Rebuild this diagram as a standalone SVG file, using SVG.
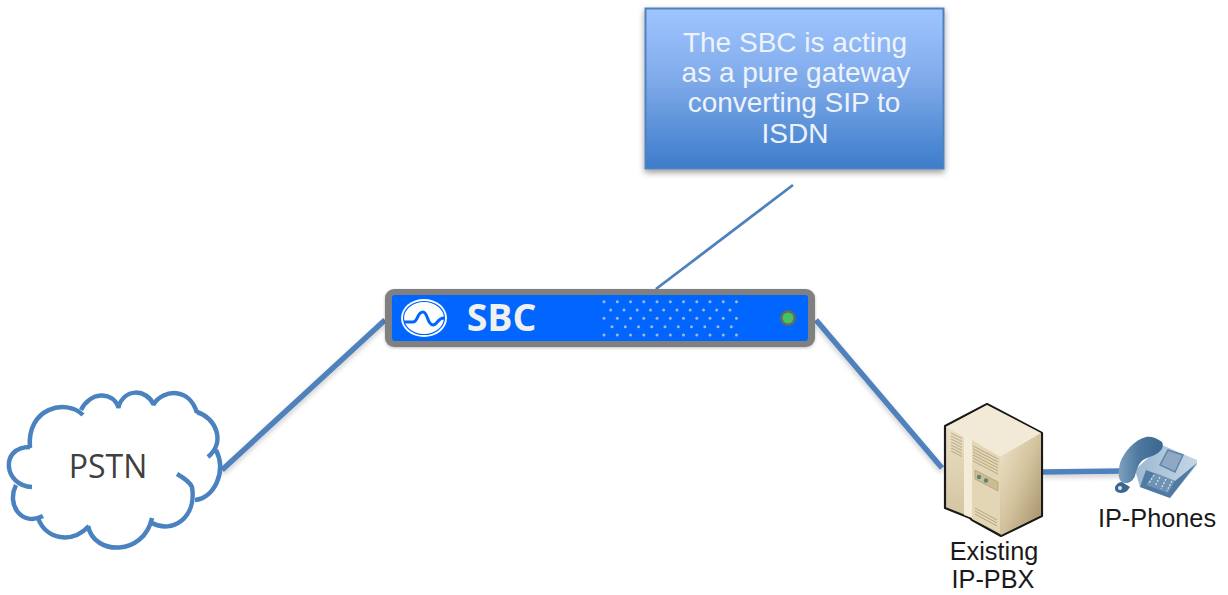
<svg xmlns="http://www.w3.org/2000/svg" width="1228" height="595" viewBox="0 0 1228 595">
<defs>
<style>
.conn{fill:none;stroke:#4f81bd;stroke-width:5.500;filter:url(#ls)}
.lbl{font-family:"Liberation Sans",Arial,sans-serif;font-size:25.300px;fill:#1a1a1a;text-anchor:middle}
.call{font-family:"Liberation Sans",Arial,sans-serif;font-size:28px;fill:#eef3fb;text-anchor:middle}
.cloud{fill:none;stroke:#4a82c0;stroke-width:4.500}
.vent{fill:none;stroke:#a8976f;stroke-width:1;opacity:.75}
.dot{fill:#a6b6cf}
</style>
<filter id="ls" filterUnits="userSpaceOnUse" x="0" y="0" width="1228" height="595"><feDropShadow dx="0" dy="3" stdDeviation="2.500" flood-color="#000" flood-opacity=".2"/></filter>
<filter id="bs" x="-5%" y="-5%" width="110%" height="115%"><feDropShadow dx="0" dy="3" stdDeviation="3" flood-color="#000" flood-opacity=".4"/></filter>
<filter id="ss" x="-5%" y="-20%" width="110%" height="140%"><feDropShadow dx="0" dy="1" stdDeviation="1.500" flood-color="#000" flood-opacity=".25"/></filter>
<linearGradient id="cg" x1="0" y1="0" x2="0" y2="1"><stop offset="0" stop-color="#9fc5ff"/><stop offset=".45" stop-color="#7faaea"/><stop offset="1" stop-color="#3c7cca"/></linearGradient>
<linearGradient id="sl" x1="0" y1="0" x2="0" y2="1"><stop offset="0" stop-color="#efe6cf"/><stop offset="1" stop-color="#cfbf98"/></linearGradient>
<linearGradient id="sr" x1="0" y1="0" x2="1" y2="1"><stop offset="0" stop-color="#efe5cd"/><stop offset=".5" stop-color="#d3c39c"/><stop offset="1" stop-color="#a08d66"/></linearGradient>
<linearGradient id="hs" x1="0" y1="0" x2="1" y2="0"><stop offset="0" stop-color="#7ea0c0"/><stop offset=".45" stop-color="#4d789f"/><stop offset="1" stop-color="#3a668f"/></linearGradient>
<linearGradient id="pb" x1="0" y1="0" x2="1" y2="0"><stop offset="0" stop-color="#9db8d0"/><stop offset="1" stop-color="#c5d6e5"/></linearGradient>
</defs>
<rect width="1228" height="595" fill="#fff"/>
<g id="connectors">
<path class="conn" d="M222 470L385 320"/>
<path class="conn" d="M816 320L942 468"/>
<path class="conn" d="M1043 472L1122 471"/>
<path d="M793 185L656 289" fill="none" stroke="#4f81bd" stroke-width="2.800"/>
</g>
<g id="pstn">
<path class="cloud" d="M32 487C4 486 -1 447 30 447"/>
<path class="cloud" d="M16 485C6 505 22 527 43 516"/>
<path class="cloud" d="M38 518C46 540 72 544 89 526"/>
<path class="cloud" d="M88 526C94 556 144 556 152 518"/>
<path class="cloud" d="M152 523C172 534 197 518 192 487C190 482 184 478 177 474"/>
<path class="cloud" d="M195 500C214 498 227 472 216 450"/>
<path class="cloud" d="M208 457C226 442 216 418 197 412"/>
<path class="cloud" d="M197 413C190 388 164 388 153 405"/>
<path class="cloud" d="M154 405C146 388 124 388 118 408"/>
<path class="cloud" d="M119 408C112 390 90 392 81 410"/>
<path class="cloud" d="M83 415C66 398 26 408 30 448"/>
<text x="108" y="478" font-family="'Open Sans',sans-serif" font-size="32" fill="#404040" text-anchor="middle">PSTN</text>
</g>
<g id="sbc">
<rect x="385" y="289" width="430" height="58" rx="9" fill="#808080" filter="url(#ss)"/>
<rect x="392" y="295" width="416" height="46" rx="3" fill="#0066ff"/>
<ellipse cx="424" cy="318" rx="23" ry="19" fill="#fff"/>
<ellipse cx="424" cy="318" rx="20.500" ry="16.500" fill="none" stroke="#0066ff" stroke-width="1.200"/>
<path d="M404 322H413C418 322 417 312 423 312C428 312 427 325 433 325C438 325 437 318 444 318" fill="none" stroke="#0066ff" stroke-width="3"/>
<text x="501.500" y="331" font-family="'Open Sans',sans-serif" font-weight="700" font-size="37.500" fill="#f0f0f0" text-anchor="middle">SBC</text>
<g id="sbc-dots">
<circle class="dot" cx="604" cy="301.700" r="1.500"/><circle class="dot" cx="617.300" cy="301.700" r="1.500"/><circle class="dot" cx="630.500" cy="301.700" r="1.500"/><circle class="dot" cx="643.800" cy="301.700" r="1.500"/><circle class="dot" cx="657" cy="301.700" r="1.500"/><circle class="dot" cx="670.300" cy="301.700" r="1.500"/><circle class="dot" cx="683.500" cy="301.700" r="1.500"/><circle class="dot" cx="696.800" cy="301.700" r="1.500"/><circle class="dot" cx="710" cy="301.700" r="1.500"/><circle class="dot" cx="723.300" cy="301.700" r="1.500"/><circle class="dot" cx="736.500" cy="301.700" r="1.500"/>
<circle class="dot" cx="610.700" cy="310" r="1.500"/><circle class="dot" cx="624" cy="310" r="1.500"/><circle class="dot" cx="637.200" cy="310" r="1.500"/><circle class="dot" cx="650.500" cy="310" r="1.500"/><circle class="dot" cx="663.700" cy="310" r="1.500"/><circle class="dot" cx="677" cy="310" r="1.500"/><circle class="dot" cx="690.200" cy="310" r="1.500"/><circle class="dot" cx="703.500" cy="310" r="1.500"/><circle class="dot" cx="716.700" cy="310" r="1.500"/><circle class="dot" cx="730" cy="310" r="1.500"/>
<circle class="dot" cx="604" cy="318.300" r="1.500"/><circle class="dot" cx="617.300" cy="318.300" r="1.500"/><circle class="dot" cx="630.500" cy="318.300" r="1.500"/><circle class="dot" cx="643.800" cy="318.300" r="1.500"/><circle class="dot" cx="657" cy="318.300" r="1.500"/><circle class="dot" cx="670.300" cy="318.300" r="1.500"/><circle class="dot" cx="683.500" cy="318.300" r="1.500"/><circle class="dot" cx="696.800" cy="318.300" r="1.500"/><circle class="dot" cx="710" cy="318.300" r="1.500"/><circle class="dot" cx="723.300" cy="318.300" r="1.500"/><circle class="dot" cx="736.500" cy="318.300" r="1.500"/>
<circle class="dot" cx="612" cy="326.700" r="1.500"/><circle class="dot" cx="625.300" cy="326.700" r="1.500"/><circle class="dot" cx="638.500" cy="326.700" r="1.500"/><circle class="dot" cx="651.800" cy="326.700" r="1.500"/><circle class="dot" cx="665" cy="326.700" r="1.500"/><circle class="dot" cx="678.300" cy="326.700" r="1.500"/><circle class="dot" cx="691.500" cy="326.700" r="1.500"/><circle class="dot" cx="704.800" cy="326.700" r="1.500"/><circle class="dot" cx="718" cy="326.700" r="1.500"/><circle class="dot" cx="731.300" cy="326.700" r="1.500"/>
<circle class="dot" cx="604" cy="335" r="1.500"/><circle class="dot" cx="617.300" cy="335" r="1.500"/><circle class="dot" cx="630.500" cy="335" r="1.500"/><circle class="dot" cx="643.800" cy="335" r="1.500"/><circle class="dot" cx="657" cy="335" r="1.500"/><circle class="dot" cx="670.300" cy="335" r="1.500"/><circle class="dot" cx="683.500" cy="335" r="1.500"/><circle class="dot" cx="696.800" cy="335" r="1.500"/><circle class="dot" cx="710" cy="335" r="1.500"/><circle class="dot" cx="723.300" cy="335" r="1.500"/><circle class="dot" cx="736.500" cy="335" r="1.500"/>
</g>
<circle cx="788" cy="318" r="8" fill="#5d6b63"/>
<circle cx="788" cy="318" r="5.500" fill="#45c264"/>
</g>
<g id="callout">
<rect x="645.500" y="8.500" width="298" height="160" fill="url(#cg)" stroke="#4f81bd" stroke-width="2" filter="url(#bs)"/>
<text class="call" x="795" y="52">The SBC is acting</text>
<text class="call" x="796" y="82">as a pure gateway</text>
<text class="call" x="794" y="112">converting SIP to</text>
<text class="call" x="795" y="143">ISDN</text>
</g>
<g id="pbx">
<path d="M987 404L1042 433V516L1001 536L972 520L970 518L945 508V426Z" fill="url(#sl)" stroke="#1a1a1a" stroke-width="2.200" stroke-linejoin="round"/>
<path d="M987 405L1041 433L1000 457L946 427Z" fill="#f2ead6"/>
<path d="M1000 457L1041 433V515L1001 535Z" fill="url(#sr)"/>
<path d="M964 435L972 439V518L964 515Z" fill="#f3ecd9"/>
<path d="M972 440L1000 457V533L972 519Z" fill="#e3d6b6"/>
<path class="vent" d="M951 433L962 438.500M951 436L962 441.500M951 439L962 444.500M951 442L962 447.500M951 445L962 450.500M951 448L962 453.500M951 451L962 456.500"/>
<path class="vent" d="M973 446L998 459M973 449L998 462M973 452L998 465M973 455L998 468M973 458L998 471M973 461L998 474"/>
<path d="M975 470L998 482V491L975 479Z" fill="#cdbb92" stroke="#b3a17a" stroke-width=".8"/>
<circle cx="979" cy="477" r="2.200" fill="#4f8a78"/><circle cx="986" cy="480.500" r="2.200" fill="#4f8a78"/>
<path class="vent" d="M975 508L997 520M975 511L997 523M975 514L997 526"/>
<text class="lbl" x="994" y="560">Existing</text>
<text class="lbl" x="993" y="588">IP-PBX</text>
</g>
<g id="phone">
<path d="M1162 445L1197 460V465L1170 498L1140 487L1135 470Z" fill="url(#pb)"/>
<path d="M1168 450L1183 455L1175 472L1160 465Z" fill="#8fa9c2" stroke="#5d85ab" stroke-width="1.500"/>
<path d="M1197 463L1170 498L1140 487L1146 470L1175 481Z" fill="#4f7aa2"/>
<path d="M1155 473L1175 481L1168 493L1146 485Z" fill="#6f93b5"/>
<path d="M1154 475L1149 483M1160 477L1155 486M1166 479L1161 489M1172 481L1167 491" stroke="#d6e2ec" stroke-width="1.300" stroke-dasharray="2 1.500" fill="none"/>
<path d="M1162 442C1156 437 1150 436 1146 437C1134 440 1124 452 1120 463C1118 472 1118 480 1122 482C1128 485 1133 481 1135 476C1137 468 1139 463 1143 460C1148 457 1154 456 1158 453C1162 450 1164 446 1162 442Z" fill="url(#hs)"/>
<path d="M1115 487C1116 484 1119 482 1122 482L1130 487L1127 491C1123 494 1114 494 1115 487Z" fill="#3a668f"/>
<circle cx="1120" cy="488" r="2" fill="#dfe8f0"/>
<text class="lbl" x="1157" y="527">IP-Phones</text>
</g>
</svg>
